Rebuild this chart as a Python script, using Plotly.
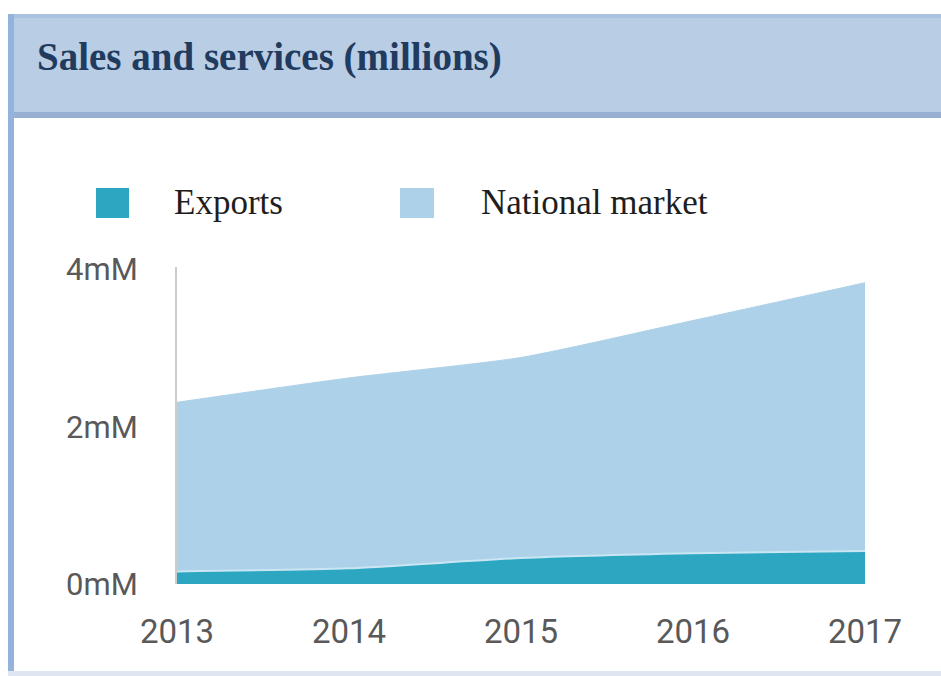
import plotly.graph_objects as go

# Sales and services, in millions, per year
years = [2013, 2014, 2015, 2016, 2017]
exports = [0.16, 0.20, 0.33, 0.39, 0.42]
national_market = [2.15, 2.42, 2.55, 2.96, 3.41]

y_tickvals = [0, 2, 4]
y_ticktext = ["0mM", "2mM", "4mM"]

series_names = ["Exports", "National market"]
series_colors = ["#2ca6c1", "#add1e8"]

W, H = 941, 676
L, R, T, B = 177, 865, 267, 584  # plot area in pixels


def px(x):
    return (x - L) / (R - L)


def py(y):
    return (B - y) / (B - T)


fig = go.Figure()
fig.add_trace(go.Scatter(
    x=years, y=exports, name=series_names[0], stackgroup="s",
    mode="lines", line=dict(color="#c9e6f2", width=2, shape="spline", smoothing=0.6),
    fillcolor=series_colors[0], showlegend=False,
))
fig.add_trace(go.Scatter(
    x=years, y=national_market, name=series_names[1], stackgroup="s",
    mode="lines", line=dict(color=series_colors[1], width=1, shape="spline", smoothing=0.6),
    fillcolor=series_colors[1], showlegend=False,
))

shapes = []
# header band of the panel
shapes.append(dict(type="rect", xref="paper", yref="paper", layer="below",
                   x0=px(8), x1=px(W + 5), y0=py(118), y1=py(14),
                   fillcolor="#b9cde5", line=dict(width=0)))
shapes.append(dict(type="rect", xref="paper", yref="paper", layer="below",
                   x0=px(8), x1=px(W + 5), y0=py(18), y1=py(14),
                   fillcolor="#a9c2e0", line=dict(width=0)))
shapes.append(dict(type="rect", xref="paper", yref="paper", layer="below",
                   x0=px(8), x1=px(W + 5), y0=py(118), y1=py(112),
                   fillcolor="#97b0d1", line=dict(width=0)))
# left and bottom border of the panel
shapes.append(dict(type="rect", xref="paper", yref="paper", layer="below",
                   x0=px(8), x1=px(14), y0=py(H + 5), y1=py(14),
                   fillcolor="#94b3dc", line=dict(width=0)))
shapes.append(dict(type="rect", xref="paper", yref="paper", layer="below",
                   x0=px(8), x1=px(W + 5), y0=py(H + 5), y1=py(671),
                   fillcolor="#dfe6f1", line=dict(width=0)))

# legend swatches
swatch_x = [(96, 129), (400, 434)]
label_x = [172, 479]
annotations = [dict(
    text="<b>Sales and services (millions)</b>", xref="paper", yref="paper",
    x=px(35), y=py(57), xanchor="left", yanchor="middle", showarrow=False,
    font=dict(family="Liberation Serif", size=39, color="#213b5e"),
)]
for (x0, x1), lx, name, color in zip(swatch_x, label_x, series_names, series_colors):
    shapes.append(dict(type="rect", xref="paper", yref="paper",
                       x0=px(x0), x1=px(x1), y0=py(218), y1=py(188),
                       fillcolor=color, line=dict(width=0)))
    annotations.append(dict(
        text=name, xref="paper", yref="paper", x=px(lx), y=py(203),
        xanchor="left", yanchor="middle", showarrow=False,
        font=dict(family="Liberation Serif", size=35, color="#1e1e1e"),
    ))

fig.update_layout(
    width=W, height=H,
    margin=dict(l=L, r=W - R, t=T, b=H - B),
    paper_bgcolor="#ffffff", plot_bgcolor="rgba(0,0,0,0)",
    shapes=shapes, annotations=annotations,
    showlegend=False,
)
fig.update_xaxes(
    range=[2013, 2017], tickvals=years, ticktext=[str(y) for y in years],
    showgrid=False, zeroline=False, showline=False, ticks="",
    ticklabelstandoff=25,
    tickfont=dict(family="Roboto", size=33, color="#595959"),
)
fig.update_yaxes(
    range=[0, 4.03], tickvals=y_tickvals, ticktext=y_ticktext,
    showgrid=False, zeroline=False, showline=True, linecolor="#cccccc", linewidth=2,
    layer="below traces", ticks="", ticklabelstandoff=31,
    tickfont=dict(family="Roboto", size=31, color="#595959"),
)

fig.write_html("out.html")
